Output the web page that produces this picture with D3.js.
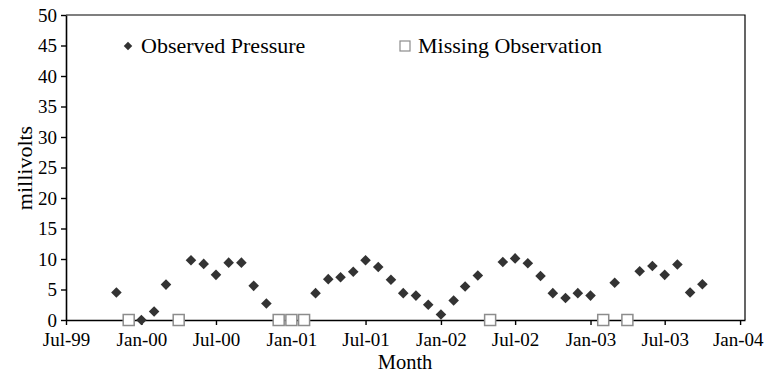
<!DOCTYPE html>
<html>
<head>
<meta charset="utf-8">
<script src="https://d3js.org/d3.v7.min.js"></script>
<style>
  body { margin: 0; background: #fff; }
  svg text { font-family: "Liberation Serif", "Times New Roman", serif; fill: #000; }
</style>
</head>
<body>
<svg id="chart"></svg>
<script>
// DATA
const months = [
  "1999-11", "1999-12", "2000-01", "2000-02", "2000-03", "2000-04", "2000-05", "2000-06",
  "2000-07", "2000-08", "2000-09", "2000-10", "2000-11", "2000-12", "2001-01", "2001-02",
  "2001-03", "2001-04", "2001-05", "2001-06", "2001-07", "2001-08", "2001-09", "2001-10",
  "2001-11", "2001-12", "2002-01", "2002-02", "2002-03", "2002-04", "2002-05", "2002-06",
  "2002-07", "2002-08", "2002-09", "2002-10", "2002-11", "2002-12", "2003-01", "2003-02",
  "2003-03", "2003-04", "2003-05", "2003-06", "2003-07", "2003-08", "2003-09", "2003-10"
];
// null = missing observation
const pressure = [
  4.5, null, 0.0, 1.4, 5.8, null, 9.8, 9.2,
  7.4, 9.4, 9.4, 5.6, 2.7, null, null, null,
  4.4, 6.7, 7.0, 7.9, 9.8, 8.7, 6.6, 4.4,
  4.0, 2.5, 0.9, 3.2, 5.5, 7.3, null, 9.5,
  10.1, 9.3, 7.2, 4.4, 3.6, 4.4, 4.0, null,
  6.1, null, 8.0, 8.85, 7.4, 9.1, 4.5, 5.85
];
const yTicks = [0, 5, 10, 15, 20, 25, 30, 35, 40, 45, 50];
const xTicks = ["1999-07", "2000-01", "2000-07", "2001-01", "2001-07", "2002-01", "2002-07", "2003-01", "2003-07", "2004-01"];

//SETUP
const width = 764, height = 373;
const svg = d3.select("#chart").attr("width", width).attr("height", height);
const plot = { left: 66, right: 745, top: 15, bottom: 320 };
const parseMonth = d3.timeParse("%Y-%m");

const rows = months.map((m, i) => ({ date: parseMonth(m), value: pressure[i] }));
const observed = rows.filter(d => d.value !== null);
const missing = rows.filter(d => d.value === null);

var xScale = d3.scaleTime()
  .domain([parseMonth("1999-07"), new Date(2004, 0, 13)])
  .range([plot.left, plot.right]);

var yScale = d3.scaleLinear()
  .domain([0, 50])
  .range([plot.bottom, plot.top]);

// frame (top + right)
svg.append("path")
  .attr("d", `M${plot.left},${plot.top}H${plot.right}V${plot.bottom}`)
  .attr("fill", "none")
  .attr("stroke", "#000")
  .attr("stroke-width", 1.2);

// axes
var yAxis = d3.axisLeft(yScale).tickValues(yTicks).tickSize(5).tickSizeOuter(0);
var gy = svg.append("g")
  .attr("transform", `translate(${plot.left},0)`)
  .call(yAxis);

var xAxis = d3.axisBottom(xScale)
  .tickValues(xTicks.map(parseMonth))
  .tickFormat(d3.timeFormat("%b-%y"))
  .tickSize(5)
  .tickSizeOuter(0);
var gx = svg.append("g")
  .attr("transform", `translate(0,${plot.bottom})`)
  .call(xAxis);

[gx, gy].forEach(g => {
  g.select(".domain").attr("stroke", "#000").attr("stroke-width", 1.6);
  g.selectAll(".tick line").attr("stroke", "#000").attr("stroke-width", 1.4);
  g.selectAll(".tick text").attr("font-size", "19px").attr("font-family", null);
});
gy.selectAll(".tick text").attr("x", -9).attr("dy", "0.34em");
gx.selectAll(".tick text").attr("y", 12).attr("dy", "0.72em");
// keep the last label inside the page
gx.selectAll(".tick text")
  .filter((d, i, nodes) => i === nodes.length - 1)
  .attr("text-anchor", "end")
  .attr("x", 23);

// axis titles
svg.append("text")
  .attr("x", 405)
  .attr("y", 369)
  .attr("text-anchor", "middle")
  .attr("font-size", "20.5px")
  .text("Month");

svg.append("text")
  .attr("transform", "rotate(-90)")
  .attr("x", -168)
  .attr("y", 32)
  .attr("text-anchor", "middle")
  .attr("font-size", "22px")
  .text("millivolts");

// missing observations
const sq = 11;
svg.selectAll(".missing")
  .data(missing)
  .enter()
  .append("rect")
  .attr("class", "missing")
  .attr("x", d => xScale(d.date) - sq / 2)
  .attr("y", yScale(0) - sq / 2)
  .attr("width", sq)
  .attr("height", sq)
  .attr("fill", "#fff")
  .attr("stroke", "#8c8c8c")
  .attr("stroke-width", 1.5);

// observed pressure
const diamond = d3.symbol().type(d3.symbolSquare).size(56);
svg.selectAll(".obs")
  .data(observed)
  .enter()
  .append("path")
  .attr("class", "obs")
  .attr("d", diamond)
  .attr("transform", d => `translate(${xScale(d.date)},${yScale(d.value)}) rotate(45)`)
  .attr("fill", "#333");

// Legend
const legend = svg.append("g").attr("font-size", "22px");
legend.append("path")
  .attr("d", d3.symbol().type(d3.symbolSquare).size(36))
  .attr("transform", "translate(128,46) rotate(45)")
  .attr("fill", "#333");
legend.append("text").attr("x", 141).attr("y", 53).text("Observed Pressure");

legend.append("rect")
  .attr("x", 400).attr("y", 41).attr("width", 10).attr("height", 10)
  .attr("fill", "#fff").attr("stroke", "#8c8c8c").attr("stroke-width", 1.2);
legend.append("text").attr("x", 418).attr("y", 53).text("Missing Observation");
</script>
</body>
</html>
